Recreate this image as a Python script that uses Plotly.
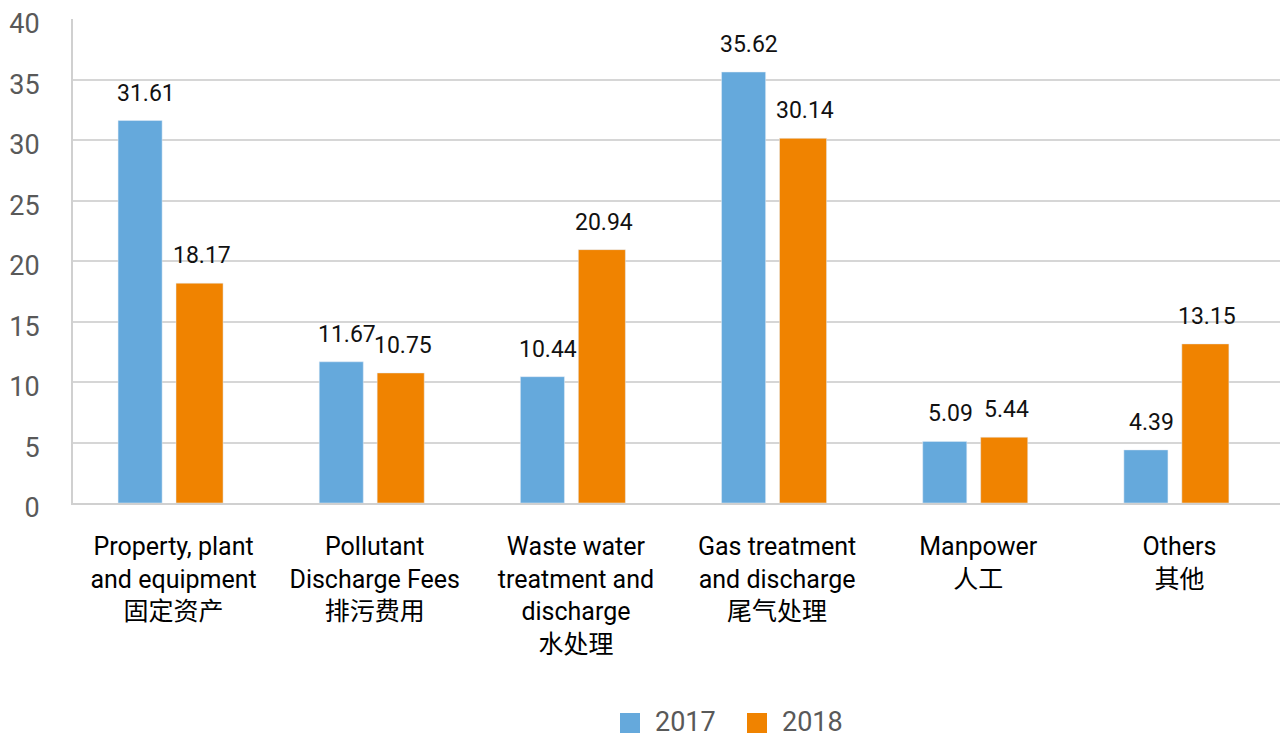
import plotly.graph_objects as go

categories = [
    "Property, plant<br>and equipment<br>固定资产",
    "Pollutant<br>Discharge Fees<br>排污费用",
    "Waste water<br>treatment and<br>discharge<br>水处理",
    "Gas treatment<br>and discharge<br>尾气处理",
    "Manpower<br>人工",
    "Others<br>其他",
]
values_2017 = [31.61, 11.67, 10.44, 35.62, 5.09, 4.39]
values_2018 = [18.17, 10.75, 20.94, 30.14, 5.44, 13.15]
series_names = ["2017", "2018"]
y_ticks = [0, 5, 10, 15, 20, 25, 30, 35, 40]

BLUE = "#65A9DC"
ORANGE = "#F08300"
FONT = "Roboto, 'Noto Sans CJK SC', sans-serif"

fig = go.Figure()
fig.add_trace(go.Bar(x=categories, y=values_2017, name=series_names[0],
                     marker_color=BLUE, width=0.219, offset=-0.276,
                     showlegend=False))
fig.add_trace(go.Bar(x=categories, y=values_2018, name=series_names[1],
                     marker_color=ORANGE, width=0.234, offset=0.012,
                     showlegend=False))

# data labels
for cat, v in zip(categories, values_2017):
    fig.add_annotation(x=cat, y=v, text=f"{v:.2f}", showarrow=False,
                       xshift=-28, yshift=12, yanchor="bottom",
                       font=dict(family=FONT, size=23, color="#111111"))
for cat, v in zip(categories, values_2018):
    fig.add_annotation(x=cat, y=v, text=f"{v:.2f}", showarrow=False,
                       xshift=28, yshift=12, yanchor="bottom",
                       font=dict(family=FONT, size=23, color="#111111"))

# manual legend
L, T = 73, 19
W, H = 1207, 484
def px(x):
    return (x - L) / W
def py(y):
    return (T + H - y) / H

for x0, col, name in [(620, BLUE, series_names[0]), (747, ORANGE, series_names[1])]:
    fig.add_shape(type="rect", xref="paper", yref="paper",
                  x0=px(x0), x1=px(x0 + 20), y0=py(733), y1=py(713),
                  fillcolor=col, line_width=0)
    fig.add_annotation(xref="paper", yref="paper", x=px(x0 + 33), y=py(722),
                       text=name, showarrow=False, xanchor="left", yanchor="middle",
                       font=dict(family=FONT, size=27, color="#595959"))

fig.update_layout(
    width=1280, height=734,
    margin=dict(l=L, r=0, t=T, b=734 - T - H, autoexpand=False),
    plot_bgcolor="white", paper_bgcolor="white",
    barmode="overlay",
    font=dict(family=FONT),
)
fig.update_xaxes(
    type="category", range=[-0.5, 5.5], automargin=False,
    showline=True, linecolor="#D0D0D0", linewidth=2,
    showgrid=False, ticks="",
    tickfont=dict(family=FONT, size=25, color="#000000"),
    ticklabelstandoff=20,
)
fig.update_yaxes(
    range=[0, 40], tickvals=y_ticks, automargin=False,
    showline=True, linecolor="#D0D0D0", linewidth=2,
    showgrid=True, gridcolor="#D6D6D6", gridwidth=1.5,
    zeroline=False, ticks="",
    tickfont=dict(family=FONT, size=27, color="#595959"),
    ticklabelstandoff=26, ticklabelshift=5,
)

fig.write_html(
    "out.html",
    config={"displayModeBar": False},
    post_script="document.body.style.margin='0';document.body.style.overflow='hidden';",
)
